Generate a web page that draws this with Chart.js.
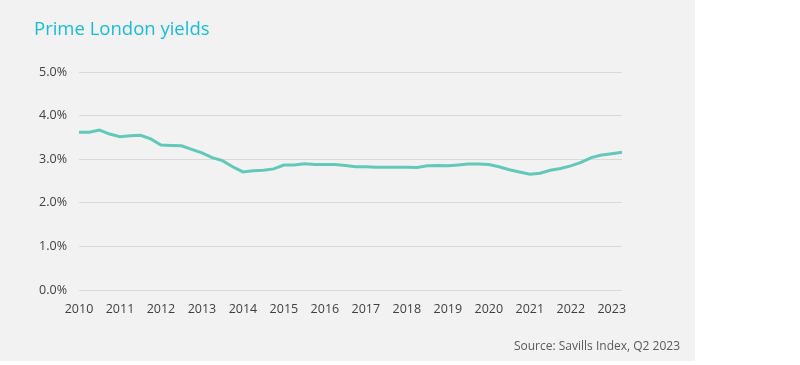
<!DOCTYPE html>
<html lang="en">
<head>
  <meta charset="UTF-8" />
  <title>Prime London yields</title>
  <script src="https://cdn.jsdelivr.net/npm/chart.js"></script>
  <style>
    body {
      margin: 0;
      padding: 0;
      background: #fff;
      font-family: "Open Sans", "Noto Sans", sans-serif;
    }
    .panel {
      position: relative;
      width: 695px;
      height: 361px;
      background: #f2f2f2;
    }
    canvas {
      display: block;
    }
    .source {
      position: absolute;
      right: 15px;
      top: 337px;
      font-size: 12px;
      color: #595959;
    }
  </style>
</head>
<body>

<div class="panel">
  <canvas id="yieldChart" width="695" height="361"></canvas>
  <div class="source">Source: Savills Index, Q2 2023</div>
</div>

<script>
// quarterly, Q1 2010 .. Q2 2023
const years = [2010, 2011, 2012, 2013, 2014, 2015, 2016, 2017, 2018, 2019, 2020, 2021, 2022, 2023];
const quarters = ['Q1', 'Q2', 'Q3', 'Q4'];
const yields = [
  3.62, 3.62, 3.67, 3.58,   // 2010
  3.52, 3.54, 3.55, 3.47,   // 2011
  3.33, 3.32, 3.31, 3.23,   // 2012
  3.15, 3.04, 2.97, 2.83,   // 2013
  2.71, 2.74, 2.75, 2.78,   // 2014
  2.87, 2.87, 2.90, 2.88,   // 2015
  2.88, 2.88, 2.86, 2.83,   // 2016
  2.83, 2.82, 2.82, 2.82,   // 2017
  2.82, 2.81, 2.85, 2.86,   // 2018
  2.85, 2.87, 2.89, 2.89,   // 2019
  2.88, 2.83, 2.76, 2.71,   // 2020
  2.66, 2.68, 2.75, 2.79,   // 2021
  2.85, 2.93, 3.04, 3.10,   // 2022
  3.13, 3.16                // 2023
];
const yTicks = [0, 1, 2, 3, 4, 5];

const labels = [];
years.forEach(y => quarters.forEach(q => labels.push(y + ' ' + q)));
labels.length = yields.length;

const tickColor = '#404040';
const tickFont = { family: '"Open Sans", "Noto Sans", sans-serif', size: 12.5 };

new Chart(document.getElementById('yieldChart'), {
  type: 'line',
  data: {
    labels: labels,
    datasets: [{
      label: 'Prime London yields',
      data: yields,
      borderColor: '#62c9b9',
      borderWidth: 3,
      pointRadius: 0,
      tension: 0,
      fill: false
    }]
  },
  options: {
    responsive: false,
    animation: false,
    layout: { padding: { left: 34, right: 73, top: 0, bottom: 41 } },
    plugins: {
      legend: { display: false },
      tooltip: { enabled: false },
      title: {
        display: true,
        text: 'Prime London yields',
        align: 'start',
        color: '#1cbbd4',
        font: { family: '"Open Sans", "Noto Sans", sans-serif', size: 18.5, weight: 'normal', lineHeight: 1.2 },
        padding: { top: 19, bottom: 31 }
      }
    },
    scales: {
      x: {
        type: 'category',
        offset: false,
        grid: { display: false },
        border: { display: false },
        ticks: {
          color: tickColor,
          font: tickFont,
          padding: 4,
          autoSkip: false,
          maxRotation: 0,
          callback: function (value) {
            const l = this.getLabelForValue(value);
            return l.endsWith('Q1') ? l.slice(0, 4) : null;
          }
        },
        afterFit: s => { s.height = 30; }
      },
      y: {
        min: 0,
        max: 5,
        afterBuildTicks: s => { s.ticks = yTicks.map(v => ({ value: v })); },
        grid: { color: '#d9d9d9', lineWidth: 1, drawTicks: false },
        border: { display: false },
        ticks: {
          color: tickColor,
          font: tickFont,
          padding: 12,
          callback: v => v.toFixed(1) + '%'
        },
        afterFit: s => { s.width = 45; }
      }
    }
  }
});
</script>

</body>
</html>
